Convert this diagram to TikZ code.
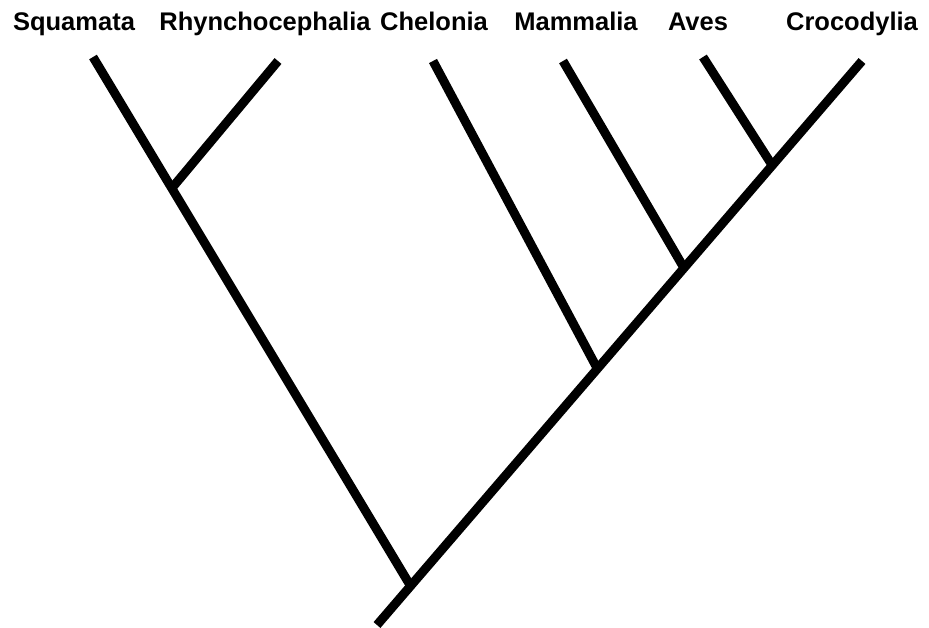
\documentclass[tikz,border=0pt]{standalone}
\usepackage{fontspec}
\setmainfont{Liberation Sans}
\usetikzlibrary{calc}
\tikzset{
  taxon/.style={anchor=base, font=\fontsize{25.5}{30}\selectfont\bfseries, inner sep=0pt},
  branch/.style={line width=9pt, line cap=butt}
}
\begin{document}
\begin{tikzpicture}[x=1pt, y=-1pt]
    \useasboundingbox (0,0) rectangle (929,627);
    % labels
    \node [taxon] at (74,30) (squ) {Squamata};
    \node [taxon] at (265,30) (rhy) {Rhynchocephalia};
    \node [taxon] at (434,30) (che) {Chelonia};
    \node [taxon] at (576,30) (mam) {Mammalia};
    \node [taxon] at (698,30) (ave) {Aves};
    \node [taxon] at (852,30) (cro) {Crocodylia};
    % tips
    \coordinate (tsqu) at (93,57);
    \coordinate (trhy) at (278,61);
    \coordinate (tche) at (433,61);
    \coordinate (tmam) at (563,61);
    \coordinate (tave) at (703,57);
    \coordinate (tcro) at (862,61);
    % junctions
    \coordinate (root) at (377,625);
    \coordinate (j0) at (410,585);
    \coordinate (j1) at (172,188);
    \coordinate (j2) at (597,368);
    \coordinate (j3) at (684,268);
    \coordinate (j4) at (772,165);
    \draw [branch] (root) to (tcro);
    \draw [branch] (j0) to (tsqu);
    \draw [branch] (j1) to (trhy);
    \draw [branch] (j2) to (tche);
    \draw [branch] (j3) to (tmam);
    \draw [branch] (j4) to (tave);
\end{tikzpicture}
\end{document}
